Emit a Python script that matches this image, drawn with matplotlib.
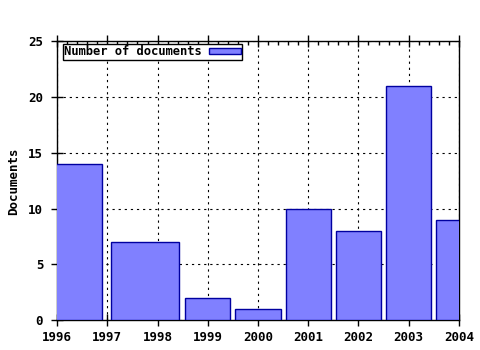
import matplotlib
matplotlib.use("Agg")
import matplotlib.pyplot as plt
from matplotlib.patches import Patch
import numpy as np

# data (years with documents)
years = [1996, 1998, 1999, 2000, 2001, 2002, 2003, 2004]
docs = [14, 7, 2, 1, 10, 8, 21, 9]
xticks = list(range(1996, 2005))
yticks = [0, 5, 10, 15, 20, 25]

fill = "#8080ff"
edge = "#0000a0"
font = {"family": "DejaVu Sans Mono", "weight": "bold", "size": 9}
lfont = {"family": "DejaVu Sans Mono", "weight": "bold", "size": 8.7}

# box widths like gnuplot "boxes": halfway to neighbours, scaled by 0.9
x = np.array(years, dtype=float)
lefts, widths = [], []
for i in range(len(x)):
    lo = (x[i - 1] + x[i]) / 2 if i > 0 else x[i] - (x[i + 1] - x[i]) / 2
    hi = (x[i] + x[i + 1]) / 2 if i < len(x) - 1 else x[i] + (x[i] - x[i - 1]) / 2
    c = (lo + hi) / 2
    w = (hi - lo) * 0.9
    lefts.append(c - w / 2)
    widths.append(w)

fig = plt.figure(figsize=(4.8, 3.5), dpi=100)
ax = fig.add_axes([0.119, 0.085, 0.837, 0.797])

ax.bar(lefts, docs, width=widths, align="edge", color=fill, edgecolor=edge,
       linewidth=1.0, zorder=3)

ax.set_xlim(1996, 2004)
ax.set_ylim(0, 25)
ax.set_xticks(xticks)
ax.set_yticks(yticks)
ax.set_xticks(np.arange(1996, 2004.01, 0.2), minor=True)
ax.set_xticklabels([str(t) for t in xticks], fontdict=font)
ax.set_yticklabels([str(t) for t in yticks], fontdict=font)
ax.tick_params(axis="x", which="major", direction="inout", length=8, width=1,
               top=True, pad=4)
ax.tick_params(axis="x", which="minor", direction="in", length=3, width=1,
               top=True)
ax.tick_params(axis="y", which="major", direction="inout", length=8, width=1,
               right=False, pad=6)

ax.grid(True, which="major", color="black", linestyle=(0, (2, 3.5)), linewidth=0.8)
ax.set_axisbelow(True)
for s in ax.spines.values():
    s.set_linewidth(1.0)
    s.set_color("black")

ax.set_ylabel("Documents", fontdict=font, labelpad=6)

h = Patch(facecolor=fill, edgecolor=edge, linewidth=1.0)
leg = ax.legend([h], ["Number of documents"], loc="upper left",
                bbox_to_anchor=(0.015, 0.99), markerfirst=False, fancybox=False,
                framealpha=1, edgecolor="black", borderpad=0.1,
                handlelength=2.6, handleheight=0.45, handletextpad=0.6,
                borderaxespad=0.0, prop=lfont)
leg.get_frame().set_linewidth(1.0)

fig.savefig("out.png", dpi=100)
